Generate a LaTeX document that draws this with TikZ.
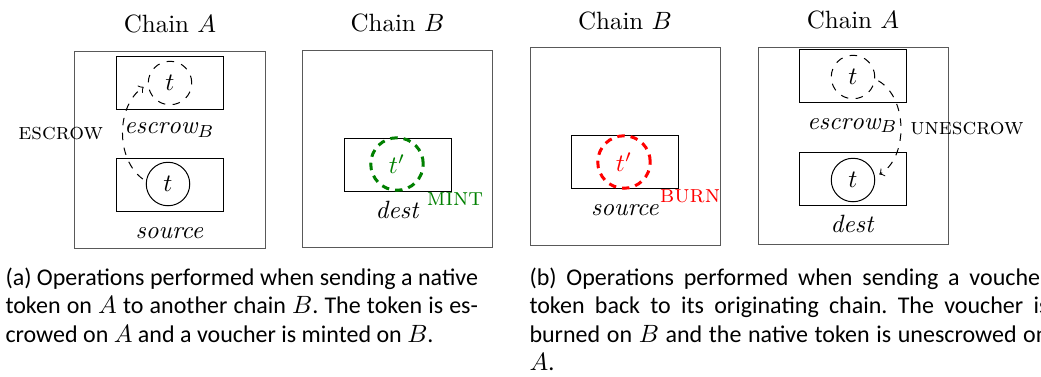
\documentclass[tikz,border=0pt]{standalone}
\usepackage{fontspec}
\newfontfamily\capfont{Carlito}
\usetikzlibrary{positioning, arrows, calc}
\definecolor{mintgreen}{RGB}{0,128,0}
\tikzset{
	chainbox/.style={draw=black!65, minimum width=76pt, minimum height=79pt},
	acct/.style={draw, minimum width=42.8pt, minimum height=21.2pt},
	tok/.style={draw, circle, minimum size=17.4pt, inner sep=0pt},
	ghost/.style={tok, dashed},
	voucher/.style={draw, circle, minimum size=21pt, inner sep=0pt, line width=1.2pt, dash pattern=on 3pt off 2.4pt},
	lbl/.style={inner sep=1pt, text height=1.5ex, text depth=0.25ex},
	oplbl/.style={lbl, font=\fontsize{9.3}{11}\selectfont},
	op/.style={->, >=to, dashed, shorten >=2pt, shorten <=1.5pt},
	caption/.style={font=\capfont\fontsize{9.6}{11.4}\selectfont\frenchspacing, align=justify, inner sep=0pt, anchor=base west},
}

\begin{document}
\begin{tikzpicture}[x=0.4pt, y=-0.4pt]
	\path[use as bounding box, clip] (0,0) rectangle (1041,376);

	% (a) chain A: escrow
	\node[chainbox] (CHAINA1) at (170,150) {};
	\node[lbl, above=5pt of CHAINA1] {Chain $A$};
	\node[acct] (escrowA1) at (169.5,82.5) {};
	\node[ghost] (tEsc1) at (170,83) {$t$};
	\node[lbl, below=2pt of escrowA1] {$\mathit{escrow}_B$};
	\node[acct] (srcA1) at (169.5,185) {};
	\node[tok] (tSrc1) at (168,184) {$t$};
	\node[lbl, below=3pt of srcA1] {\textit{source}};
	\draw[op] (tSrc1.173) to[bend left=55] node[left=7pt, oplbl] {\textsc{escrow}} (tEsc1.183);

	% (a) chain B: mint
	\node[chainbox] (CHAINB1) at (397.5,149) {};
	\node[lbl, above=5pt of CHAINB1] {Chain $B$};
	\node[acct] (destB1) at (397.5,164.5) {};
	\node[voucher, draw=mintgreen] (vMint) at (397,164) {\textcolor{mintgreen}{$t'$}};
	\node[lbl, below=3pt of destB1] (destlbl1) {\textit{dest}};
	\node[lbl] (mint) at (455,199) {\textcolor{mintgreen}{\textsc{mint}}};

	% (b) chain B: burn
	\node[chainbox] (CHAINB2) at (625,146.5) {};
	\node[lbl, above=5pt of CHAINB2] {Chain $B$};
	\node[acct] (srcB2) at (625,161.5) {};
	\node[voucher, draw=red] (vBurn) at (624,162) {\textcolor{red}{$t'$}};
	\node[lbl, below=3pt of srcB2] (srclbl2) {\textit{source}};
	\node[lbl] (burn) at (690,196) {\textcolor{red}{\textsc{burn}}};

	% (b) chain A: unescrow
	\node[chainbox] (CHAINA2) at (853,146) {};
	\node[lbl, above=5pt of CHAINA2] {Chain $A$};
	\node[acct] (escrowA2) at (852.5,75.5) {};
	\node[ghost] (tEsc2) at (853,77) {$t$};
	\node[lbl, below=3pt of escrowA2] {$\mathit{escrow}_B$};
	\node[acct] (destA2) at (852.5,179) {};
	\node[tok] (tDest2) at (853,180) {$t$};
	\node[lbl, below=3pt of destA2] {\textit{dest}};
	\draw[op] (tEsc2.355) to[bend left=60] node[right=3pt, oplbl] {\textsc{unescrow}} (tDest2.8);

	% captions
	\node[caption, text width=189pt] (capA) at (5,285) {(a) Operations performed when sending a native\linebreak token on $A$ to another chain $B$. The token is es-\linebreak crowed on $A$ and a voucher is minted on $B$.};
	\node[caption, text width=207.6pt] (capB) at (529,285) {(b) Operations performed when sending a voucher\linebreak token back to its originating chain. The voucher is\linebreak burned on $B$ and the native token is unescrowed on\linebreak $A$.};
\end{tikzpicture}
\end{document}
